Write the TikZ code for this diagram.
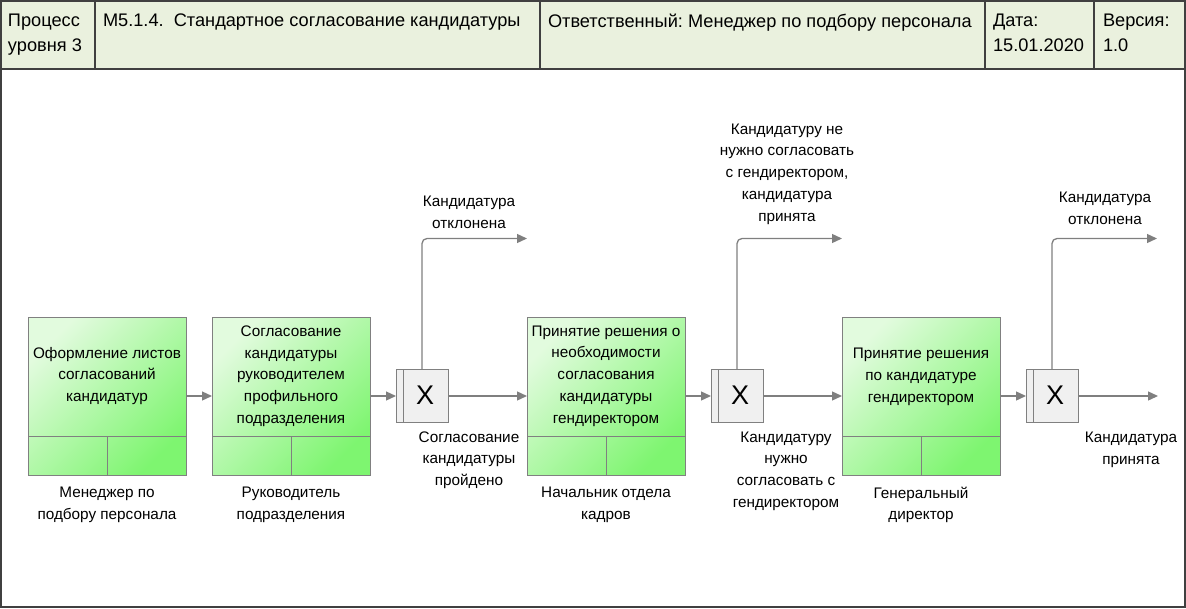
\documentclass[tikz,border=0pt]{standalone}
\usepackage{fontspec}
\setmainfont{Liberation Sans}
\frenchspacing
\usetikzlibrary{arrows.meta}
\definecolor{hdrfill}{HTML}{EAF1DE}
\definecolor{framegray}{HTML}{404040}
\definecolor{boxgray}{HTML}{808080}
\definecolor{boxlight}{HTML}{E2FBDE}
\definecolor{boxgreen}{HTML}{7EF570}
\definecolor{gwfill}{HTML}{F0F0F0}
\definecolor{flowgray}{HTML}{7F7F7F}
\begin{document}
\begin{tikzpicture}[x=1pt,y=-1pt,
  every node/.style={inner sep=0pt, outer sep=0pt},
  txt/.style={font=\fontsize{15.3}{21.7}\selectfont, align=center, text=black},
  hdr/.style={font=\fontsize{18.2}{25}\selectfont, align=left, anchor=north west, text=black},
  task/.style={draw=boxgray, line width=1pt, top color=boxlight, bottom color=boxgreen, shading angle=45, minimum width=158pt, minimum height=158pt},
  gw/.style={draw=boxgray, line width=1pt, fill=gwfill, minimum width=52pt, minimum height=53pt},
  divl/.style={draw=boxgray, line width=1pt},
  flow/.style={draw=flowgray, line width=1.3pt, -{Triangle[length=10pt,width=9pt]}},
  branch/.style={flow, rounded corners=5pt}
]
\useasboundingbox (0,0) rectangle (1186,608);
% header
\fill[hdrfill] (0,0) rectangle (1186,69);
\draw[framegray, line width=1.5pt] (95,0) -- (95,69) (540,0) -- (540,69) (985,0) -- (985,69) (1094,0) -- (1094,69);
\draw[framegray, line width=2pt] (0,69) -- (1186,69);
\draw[framegray, line width=2.5pt] (1.2,1.2) rectangle (1184.8,606.8);
\node[hdr] (h1) at (8,14) {Процесс\\уровня 3};
\node[hdr] (h2) at (103,14) {M5.1.4.\ \ Стандартное согласование кандидатуры};
\node[hdr] (h3) at (548,14) {Ответственный: Менеджер по подбору персонала};
\node[hdr] (h4) at (993,14) {Дата:\\15.01.2020};
\node[hdr] (h5) at (1103,14) {Версия:\\1.0};

% tasks
\node[task] (b1) at (107,396) {};
\node[task] (b2) at (291,396) {};
\node[task] (b3) at (606,396) {};
\node[task] (b4) at (921,396) {};
\foreach \b in {b1,b2,b3,b4}{
  \draw[divl] ([yshift=39pt]\b.south west) -- ([yshift=39pt]\b.south east);
  \draw[divl] ([yshift=39pt]\b.south) -- (\b.south);
}
\node[txt] (t1) at (107,376) {Оформление листов\\согласований\\кандидатур};
\node[txt] (t2) at (291,376) {Согласование\\кандидатуры\\руководителем\\профильного\\подразделения};
\node[txt] (t3) at (606,376) {Принятие решения о\\необходимости\\согласования\\кандидатуры\\гендиректором};
\node[txt] (t4) at (921,377) {Принятие решения\\по кандидатуре\\гендиректором};

% roles
\node[txt] (r1) at (107,505) {Менеджер по\\подбору персонала};
\node[txt] (r2) at (291,505) {Руководитель\\подразделения};
\node[txt] (r3) at (606,505) {Начальник отдела\\кадров};
\node[txt] (r4) at (921,505) {Генеральный\\директор};

% gateways
\foreach \n/\x in {g1/422, g2/737, g3/1052}{
  \node[gw] (\n) at (\x,395.5) {};
  \draw[divl] ([xshift=7pt]\n.north west) -- ([xshift=7pt]\n.south west);
  \node[font=\fontsize{27}{27}\selectfont] (\n x) at ([xshift=3pt]\n.center) {X};
}

% flows
\draw[flow] (b1.east) -- (b2.west);
\draw[flow] (b2.east) -- (b2.east -| g1.west);
\draw[flow] (g1.east |- b3.west) -- (b3.west);
\draw[flow] (b3.east) -- (b3.east -| g2.west);
\draw[flow] (g2.east |- b4.west) -- (b4.west);
\draw[flow] (b4.east) -- (b4.east -| g3.west);
\coordinate (e3) at (1158,396);
\draw[flow] (g3.east |- e3) -- (e3);
\coordinate (a1) at (527,238.5);
\coordinate (a2) at (842,238.5);
\coordinate (a3) at (1157,238.5);
\draw[branch] (g1.north) |- (a1);
\draw[branch] (g2.north) |- (a2);
\draw[branch] (g3.north) |- (a3);

% labels
\node[txt] (l1) at (469,212) {Кандидатура\\отклонена};
\node[txt] (l2) at (787,174) {Кандидатуру не\\нужно согласовать\\с гендиректором,\\кандидатура\\принята};
\node[txt] (l3) at (1105,208) {Кандидатура\\отклонена};
\node[txt] (l4) at (469,460) {Согласование\\кандидатуры\\пройдено};
\node[txt] (l5) at (786,471) {Кандидатуру\\нужно\\согласовать с\\гендиректором};
\node[txt] (l6) at (1131,450) {Кандидатура\\принята};
\end{tikzpicture}
\end{document}
